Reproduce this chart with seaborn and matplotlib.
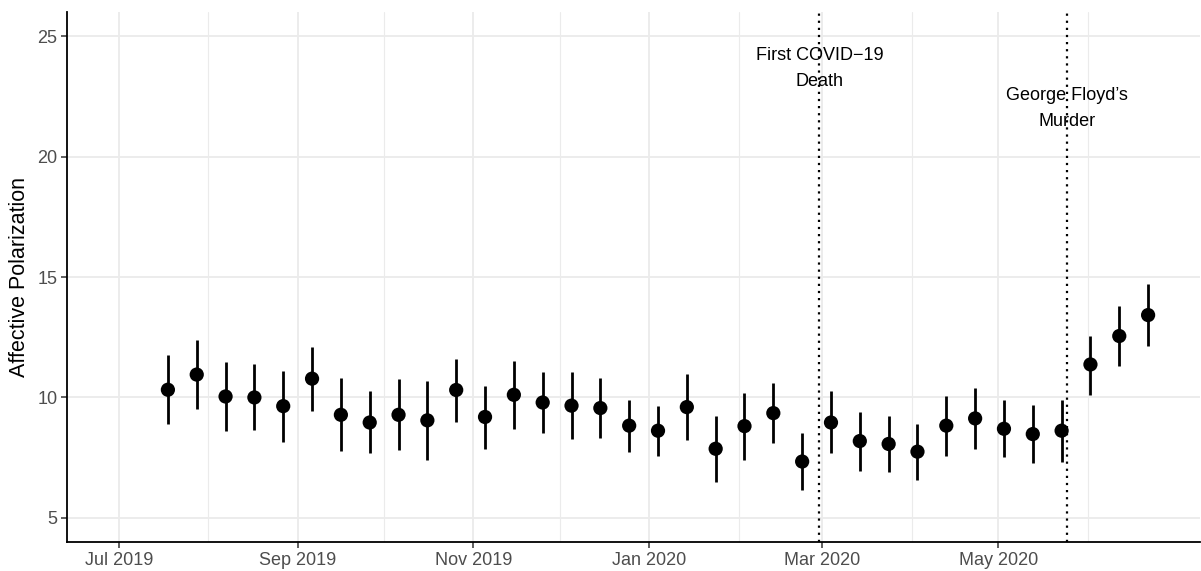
import pandas as pd
import seaborn as sns
import matplotlib.pyplot as plt
import matplotlib.dates as mdates

# survey waves (10-day bins)
dates = ["2019-07-18", "2019-07-28", "2019-08-07", "2019-08-17", "2019-08-27",
         "2019-09-06", "2019-09-16", "2019-09-26", "2019-10-06", "2019-10-16",
         "2019-10-26", "2019-11-05", "2019-11-15", "2019-11-25", "2019-12-05",
         "2019-12-15", "2019-12-25", "2020-01-04", "2020-01-14", "2020-01-24",
         "2020-02-03", "2020-02-13", "2020-02-23", "2020-03-04", "2020-03-14",
         "2020-03-24", "2020-04-03", "2020-04-13", "2020-04-23", "2020-05-03",
         "2020-05-13", "2020-05-23", "2020-06-02", "2020-06-12", "2020-06-22"]
estimate = [10.32, 10.95, 10.04, 10.00, 9.64, 10.78, 9.28, 8.96, 9.28, 9.05,
            10.31, 9.19, 10.11, 9.79, 9.66, 9.56, 8.83, 8.62, 9.60, 7.87,
            8.81, 9.35, 7.34, 8.96, 8.19, 8.07, 7.75, 8.83, 9.13, 8.70,
            8.48, 8.62, 11.37, 12.55, 13.42]
upper = [11.76, 12.38, 11.48, 11.37, 11.11, 12.10, 10.80, 10.25, 10.75, 10.69,
         11.61, 10.49, 11.51, 11.07, 11.05, 10.80, 9.90, 9.63, 10.97, 9.23,
         10.20, 10.60, 8.54, 10.27, 9.41, 9.23, 8.91, 10.04, 10.40, 9.88,
         9.67, 9.88, 12.57, 13.80, 14.69]
lower = [8.88, 9.54, 8.61, 8.63, 8.17, 9.44, 7.78, 7.68, 7.82, 7.42,
         9.00, 7.86, 8.70, 8.52, 8.26, 8.30, 7.72, 7.59, 8.23, 6.51,
         7.39, 8.09, 6.16, 7.68, 6.96, 6.92, 6.59, 7.59, 7.86, 7.51,
         7.26, 7.34, 10.12, 11.32, 12.13]

event_dates = ["2020-02-29", "2020-05-25"]
event_labels = ["First COVID\u221219\nDeath", "George Floyd\u2019s\nMurder"]
event_label_y = [23.65, 22.0]

month_breaks = ["2019-07-01", "2019-09-01", "2019-11-01", "2020-01-01",
                "2020-03-01", "2020-05-01"]
minor_breaks = ["2019-08-01", "2019-10-01", "2019-12-01", "2020-02-01",
                "2020-04-01", "2020-06-01"]

df = pd.DataFrame({"date": pd.to_datetime(dates), "est": estimate,
                   "hi": upper, "lo": lower})

sns.set_theme(style="white")
plt.rcParams["font.family"] = ["Liberation Sans", "DejaVu Sans"]

fig = plt.figure(figsize=(12.01, 5.71), dpi=100)
ax = fig.add_axes([67 / 1201, 1 - 542 / 571, 1133 / 1201, 530 / 571])

ax.vlines(df["date"], df["lo"], df["hi"], color="black", linewidth=2.0, zorder=3)
sns.scatterplot(data=df, x="date", y="est", ax=ax, color="black", s=105,
                edgecolor="none", zorder=4, legend=False)

for d, lab, yy in zip(event_dates, event_labels, event_label_y):
    ax.axvline(pd.Timestamp(d), color="black", linestyle=(0, (1, 2.2)),
               linewidth=1.6, zorder=2)
    ax.text(pd.Timestamp(d), yy, lab, ha="center", va="center", fontsize=13,
            color="black", linespacing=1.7, zorder=5)

ax.set_ylim(4, 26)
ax.set_yticks([5, 10, 15, 20, 25])
ax.set_xlim(pd.Timestamp("2019-06-13"), pd.Timestamp("2020-07-10"))
ax.set_xticks(pd.to_datetime(month_breaks))
ax.set_xticks(pd.to_datetime(minor_breaks), minor=True)
ax.xaxis.set_major_formatter(mdates.DateFormatter("%b %Y"))

ax.grid(True, which="major", color="#EBEBEB", linewidth=1.3)
ax.grid(True, which="minor", axis="x", color="#EBEBEB", linewidth=0.8)
ax.set_axisbelow(True)

for side in ["top", "right"]:
    ax.spines[side].set_visible(False)
for side in ["left", "bottom"]:
    ax.spines[side].set_color("black")
    ax.spines[side].set_linewidth(1.3)

ax.tick_params(axis="both", which="major", length=4, width=1.1, color="#333333",
               labelsize=13, labelcolor="#4D4D4D", pad=3, left=True, bottom=True)
ax.tick_params(axis="x", which="minor", length=0)

ax.set_xlabel("")
ax.set_ylabel("Affective Polarization", fontsize=15.5, color="black", labelpad=5)

fig.savefig("out.png", dpi=100)
